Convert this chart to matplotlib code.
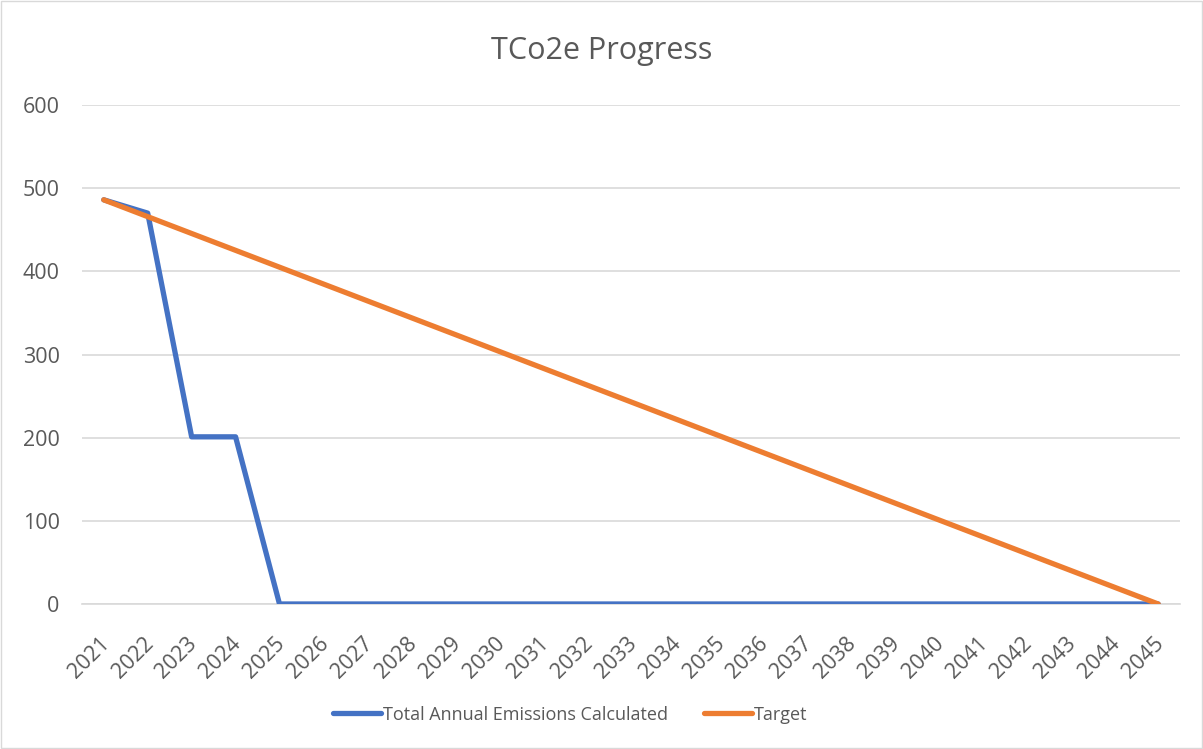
import matplotlib
matplotlib.use("Agg")
import matplotlib.pyplot as plt
from matplotlib.patches import Rectangle
from matplotlib.transforms import ScaledTranslation

years = [str(y) for y in range(2021, 2046)]
emissions = [486, 470, 201, 201] + [0] * 21
target = [486, 465.75, 445.5, 425.25, 405, 384.75, 364.5, 344.25, 324, 303.75,
          283.5, 263.25, 243, 222.75, 202.5, 182.25, 162, 141.75, 121.5, 101.25,
          81, 60.75, 40.5, 20.25, 0]
yticks = [0, 100, 200, 300, 400, 500, 600]

plt.rcParams['font.family'] = ['Open Sans', 'DejaVu Sans']
txt = '#595959'

fig = plt.figure(figsize=(12.03, 7.49), dpi=100)
fig.patches.append(Rectangle((0.001, 0.001), 0.998, 0.998, transform=fig.transFigure,
                             fill=False, edgecolor='#D9D9D9', linewidth=1))
ax = fig.add_axes([0.068, 0.1936, 0.913, 0.6662])

x = list(range(len(years)))
l1, = ax.plot(x, emissions, color='#4472C4', linewidth=3.8, solid_capstyle='round',
              solid_joinstyle='round', label='Total Annual Emissions Calculated', zorder=3)
l2, = ax.plot(x, target, color='#ED7D31', linewidth=3.8, solid_capstyle='round',
              solid_joinstyle='round', label='Target', zorder=4)

ax.set_xlim(-0.5, len(years) - 0.5)
ax.set_ylim(0, 600)
ax.set_yticks(yticks)
ax.set_yticklabels([str(v) for v in yticks])
ax.set_xticks(x)
ax.set_xticklabels(years, rotation=45, ha='right', rotation_mode='anchor')
ax.grid(axis='y', color='#D9D9D9', linewidth=1.2)
ax.set_axisbelow(True)
for s in ['top', 'right', 'left']:
    ax.spines[s].set_visible(False)
ax.spines['bottom'].set_color('#D9D9D9')
ax.spines['bottom'].set_linewidth(1.2)
ax.tick_params(axis='both', length=0, colors=txt, labelsize=15.5)
ax.tick_params(axis='y', pad=16)
ax.tick_params(axis='x', pad=21)
off = ScaledTranslation(-5 / 100, 0, fig.dpi_scale_trans)
for lab in ax.get_xticklabels():
    lab.set_transform(lab.get_transform() + off)

fig.text(0.5, 0.932, 'TCo2e Progress', ha='center', va='center', fontsize=22, color=txt)

fig.legend(handles=[l1, l2], loc='center', bbox_to_anchor=(0.474, 0.046), ncol=2,
           frameon=False, fontsize=13, labelcolor=txt, handlelength=2.66,
           handletextpad=0.12, columnspacing=2.0)

fig.savefig('out.png', dpi=100)
